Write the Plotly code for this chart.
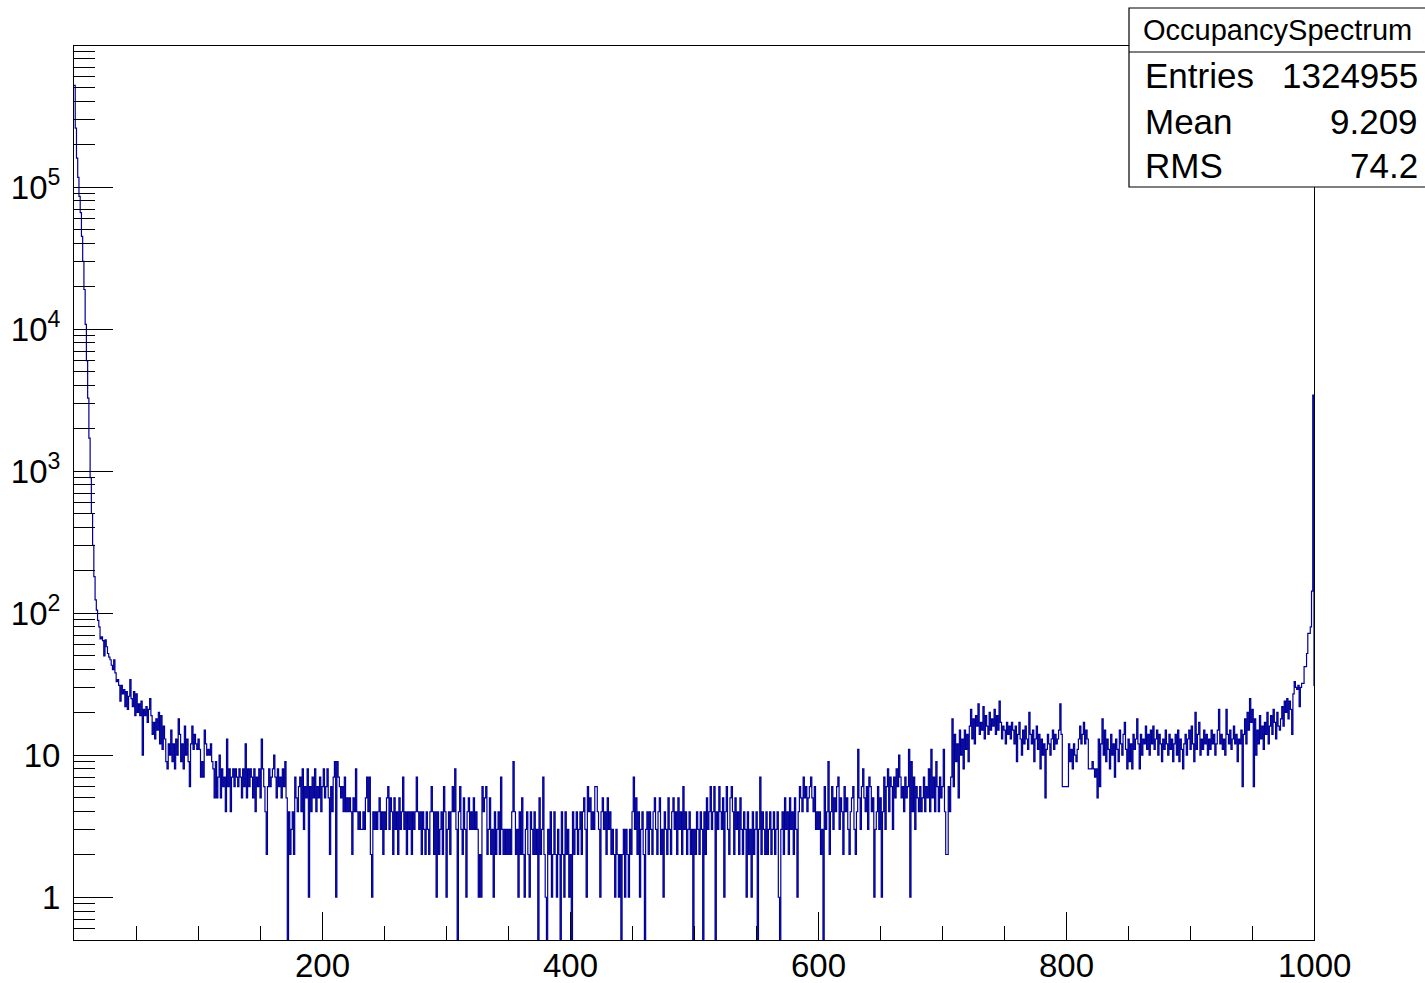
import numpy as np
import plotly.graph_objects as go

# OccupancySpectrum histogram contents, one bin per unit from 0 to 1000
peak_counts = [  # bins 0-20
    520000, 260000, 160000, 117000, 86000, 66000, 45000, 30000, 19000, 10800,
    6000, 3270, 1710, 900, 503, 300, 181, 124, 105, 89, 80,
]
tail_counts = [  # bins 21-200
    66, 68, 64, 50, 65, 58, 52, 49, 47, 43, 40, 47, 38, 33, 34, 31, 24, 31, 27, 29,
    22, 28, 21, 26, 34, 25, 22, 28, 19, 27, 20, 23, 19, 24, 10, 21, 19, 22, 17, 21,
    25, 19, 14, 17, 13, 18, 15, 20, 12, 19, 11, 16, 13, 9, 8, 12, 10, 15, 9, 12,
    8, 13, 10, 18, 14, 9, 12, 8, 16, 10, 13, 9, 6, 12, 16, 11, 14, 12, 11, 13,
    11, 7, 9, 7, 15, 12, 10, 11, 10, 12, 9, 8, 5, 9, 5, 7, 10, 5, 8, 6,
    7, 4, 13, 6, 8, 4, 7, 8, 6, 8, 7, 6, 8, 7, 5, 8, 6, 12, 5, 8,
    6, 8, 7, 5, 8, 4, 7, 6, 8, 5, 13, 8, 6, 4, 2, 6, 8, 6, 7, 8,
    10, 7, 5, 8, 6, 7, 5, 8, 6, 9, 5, 0, 4, 2, 3, 4, 2, 7, 5, 4,
    6, 7, 4, 8, 3, 6, 5, 8, 1, 6, 4, 7, 5, 8, 4, 6, 5, 7, 4, 6,
]
flat_counts = [  # bins 201-600
    8, 5, 6, 8, 5, 2, 6, 4, 7, 9, 1, 9, 7, 6, 5, 6, 4, 7, 4, 5,
    4, 5, 4, 2, 5, 4, 8, 4, 3, 4, 3, 3, 4, 3, 5, 7, 4, 7, 2, 1,
    4, 3, 4, 3, 4, 5, 3, 4, 2, 4, 3, 5, 6, 3, 5, 4, 2, 5, 3, 4,
    2, 5, 3, 4, 7, 3, 4, 2, 4, 3, 4, 2, 4, 3, 4, 7, 4, 3, 4, 2,
    4, 3, 2, 4, 3, 2, 4, 6, 4, 2, 4, 1, 4, 2, 3, 4, 2, 6, 4, 1,
    3, 4, 2, 4, 6, 4, 8, 3, 0, 4, 6, 3, 2, 5, 3, 1, 4, 5, 3, 4,
    3, 5, 3, 4, 3, 1, 2, 1, 6, 4, 5, 6, 2, 3, 5, 2, 3, 1, 4, 2,
    3, 4, 2, 7, 3, 2, 3, 2, 3, 2, 3, 2, 4, 9, 4, 2, 3, 1, 4, 2,
    5, 2, 1, 3, 4, 2, 1, 4, 3, 2, 4, 2, 3, 0, 5, 2, 3, 7, 2, 1,
    0, 3, 2, 4, 1, 2, 4, 2, 1, 3, 2, 0, 4, 2, 1, 4, 2, 3, 1, 2,
    0, 4, 2, 3, 4, 2, 3, 4, 2, 4, 5, 3, 1, 6, 4, 5, 3, 4, 3, 6,
    6, 4, 3, 1, 4, 5, 3, 4, 2, 5, 3, 4, 2, 3, 2, 1, 3, 2, 1, 2,
    0, 2, 3, 1, 3, 2, 1, 3, 2, 4, 7, 3, 5, 2, 4, 1, 3, 4, 2, 0,
    3, 4, 2, 4, 3, 2, 4, 5, 3, 2, 4, 5, 2, 3, 1, 4, 3, 2, 5, 3,
    2, 4, 5, 3, 4, 2, 5, 3, 4, 2, 6, 3, 4, 2, 3, 4, 2, 3, 0, 3,
    2, 4, 3, 2, 4, 3, 0, 4, 2, 5, 3, 4, 6, 3, 4, 6, 0, 4, 3, 6,
    4, 3, 5, 1, 4, 6, 3, 2, 5, 6, 4, 2, 5, 3, 4, 2, 5, 3, 2, 4,
    3, 1, 4, 2, 3, 1, 4, 2, 3, 4, 0, 3, 7, 2, 4, 3, 2, 4, 2, 3,
    4, 2, 3, 4, 2, 3, 4, 1, 0, 3, 4, 2, 5, 3, 4, 2, 5, 3, 4, 2,
    5, 3, 1, 4, 6, 5, 4, 7, 5, 6, 4, 5, 6, 7, 5, 4, 6, 3, 4, 3,
]
rise_counts = [  # bins 601-800
    4, 2, 3, 0, 6, 3, 4, 9, 2, 4, 6, 3, 5, 4, 6, 7, 3, 5, 4, 2,
    6, 4, 5, 3, 2, 4, 5, 6, 3, 2, 4, 11, 5, 3, 6, 8, 5, 4, 6, 3,
    7, 6, 4, 5, 1, 3, 4, 6, 3, 5, 1, 4, 7, 3, 6, 8, 4, 7, 6, 3,
    7, 5, 8, 6, 10, 7, 5, 6, 4, 7, 5, 6, 11, 1, 9, 4, 7, 3, 6, 5,
    4, 6, 4, 5, 7, 4, 6, 5, 8, 4, 11, 5, 7, 4, 9, 6, 4, 7, 5, 6,
    11, 4, 2, 2, 6, 4, 7, 18, 6, 14, 9, 12, 5, 15, 10, 13, 8, 15, 11, 14,
    9, 16, 21, 13, 18, 12, 19, 16, 23, 14, 17, 15, 22, 13, 19, 16, 14, 20, 15, 18,
    16, 21, 14, 19, 15, 24, 17, 13, 16, 15, 12, 17, 14, 16, 13, 17, 15, 12, 16, 9,
    14, 17, 13, 10, 15, 12, 16, 13, 11, 20, 14, 12, 15, 9, 13, 16, 11, 14, 8, 13,
    10, 12, 5, 11, 14, 12, 10, 13, 15, 11, 14, 12, 13, 15, 23, 14, 6, 6, 6, 6,
]
end_counts = [  # bins 801-999
    6, 12, 9, 11, 8, 12, 10, 9, 11, 13, 16, 12, 14, 17, 12, 15, 13, 8, 8, 8,
    9, 8, 7, 8, 5, 13, 6, 12, 18, 10, 15, 9, 13, 11, 8, 14, 10, 12, 7, 13,
    11, 9, 15, 12, 10, 14, 17, 11, 8, 13, 9, 12, 8, 14, 11, 13, 18, 12, 8, 14,
    10, 13, 12, 16, 11, 14, 10, 15, 12, 16, 11, 13, 15, 10, 14, 12, 9, 13, 11, 15,
    12, 10, 14, 11, 13, 9, 12, 14, 10, 15, 9, 13, 11, 8, 12, 14, 10, 13, 15, 11,
    16, 12, 9, 20, 11, 14, 17, 10, 13, 11, 15, 12, 14, 10, 13, 11, 15, 12, 14, 10,
    12, 15, 21, 12, 14, 11, 13, 10, 21, 14, 12, 15, 11, 13, 16, 12, 14, 9, 13, 12,
    15, 6, 14, 18, 12, 20, 15, 25, 17, 21, 6, 18, 10, 15, 12, 19, 13, 16, 11, 17,
    14, 20, 12, 16, 19, 14, 21, 17, 13, 20, 16, 15, 18, 22, 16, 24, 20, 25, 18, 24,
    21, 14, 27, 33, 30, 29, 31, 22, 30, 32, 32, 42, 42, 52, 72, 72, 80, 143, 3430,
]
overflow_count = 31  # content just past the upper axis edge

stats_name = "OccupancySpectrum"
stats_labels = ["Entries", "Mean", "RMS"]
stats_values = ["1324955", "9.209", "74.2"]

x_range = [0, 1000]
x_major = [200, 400, 600, 800, 1000]
x_minor = [v for v in range(50, 1000, 50) if v % 200]
y_min, y_max = 0.5, 10 ** 5.993
y_major = [1, 10, 100, 1000, 10000, 100000]
y_labels = ["1", "10", "10<sup>2</sup>", "10<sup>3</sup>", "10<sup>4</sup>", "10<sup>5</sup>"]
y_minor = [m * 10.0 ** e for e in range(-1, 6) for m in range(2, 10)
           if y_min < m * 10.0 ** e < y_max]

counts = np.array(peak_counts + tail_counts + flat_counts + rise_counts
                  + end_counts + [overflow_count, overflow_count], dtype=float)
edges = np.arange(len(counts))
# empty bins drop below the axis floor so the outline falls off the frame
drawn = np.where(counts > 0, counts, 1e-3)

line_color = "#000099"
font_family = "Liberation Sans, Arial, Helvetica, sans-serif"

fig = go.Figure()
fig.add_trace(go.Scatter(
    x=edges, y=drawn, mode="lines",
    line=dict(shape="hv", color=line_color, width=1.2),
    hoverinfo="skip", showlegend=False,
))

# plot-area pixel geometry
W, H = 1425, 983
L, R, T, B = 74, 1314, 46, 940


def px(xp):
    return (xp - L) / (R - L)


def py(yp):
    return (B - yp) / (B - T)


axis_common = dict(
    showgrid=False, zeroline=False, showline=True, mirror=True,
    linecolor="black", linewidth=1, ticks="inside", tickcolor="black",
    tickwidth=1, automargin=False,
    tickfont=dict(family=font_family, size=33, color="black"),
)

fig.update_xaxes(
    range=x_range, tickmode="array", tickvals=x_major,
    showticklabels=False, ticklen=28,
    minor=dict(tickmode="array", tickvals=x_minor, ticklen=14,
               ticks="inside", tickcolor="black", tickwidth=1),
    **axis_common,
)
fig.update_yaxes(
    type="log", range=[np.log10(y_min), np.log10(y_max)],
    tickmode="array", tickvals=y_major, ticktext=y_labels, ticklen=39,
    minor=dict(tickmode="array", tickvals=y_minor, ticklen=21,
               ticks="inside", tickcolor="black", tickwidth=1),
    ticklabelstandoff=6,
    **axis_common,
)

# x tick labels sit close under the frame, placed at their axis values
annotations = [
    dict(text=str(v), xref="x", yref="paper", x=v, y=py(965),
         xanchor="center", yanchor="middle", showarrow=False,
         font=dict(family=font_family, size=33, color="black"))
    for v in x_major
]

# statistics box
bx0, bx1, by_top, by_bot, by_sep = 1129, 1428, 8, 187, 52
shapes = [
    dict(type="rect", xref="paper", yref="paper",
         x0=px(bx0), x1=px(bx1), y0=py(by_bot), y1=py(by_top),
         fillcolor="white", line=dict(color="black", width=1.2), layer="above"),
    dict(type="line", xref="paper", yref="paper",
         x0=px(bx0), x1=px(bx1), y0=py(by_sep), y1=py(by_sep),
         line=dict(color="black", width=1.2), layer="above"),
]
annotations.append(
    dict(text=stats_name, xref="paper", yref="paper", x=px(1277), y=py(30),
         xanchor="center", yanchor="middle", showarrow=False,
         font=dict(family=font_family, size=29, color="black")))
row_y = [76, 121, 165]
for lab, val, yp in zip(stats_labels, stats_values, row_y):
    annotations.append(dict(text=lab, xref="paper", yref="paper", x=px(1143),
                            y=py(yp), xanchor="left", yanchor="middle",
                            showarrow=False,
                            font=dict(family=font_family, size=35, color="black")))
    annotations.append(dict(text=val, xref="paper", yref="paper", x=px(1420),
                            y=py(yp), xanchor="right", yanchor="middle",
                            showarrow=False,
                            font=dict(family=font_family, size=35, color="black")))

fig.update_layout(
    width=W, height=H,
    margin=dict(l=L, r=W - R, t=T, b=H - B, pad=0, autoexpand=False),
    paper_bgcolor="white", plot_bgcolor="white",
    shapes=shapes, annotations=annotations,
    showlegend=False,
)

fig.write_html("out.html")
